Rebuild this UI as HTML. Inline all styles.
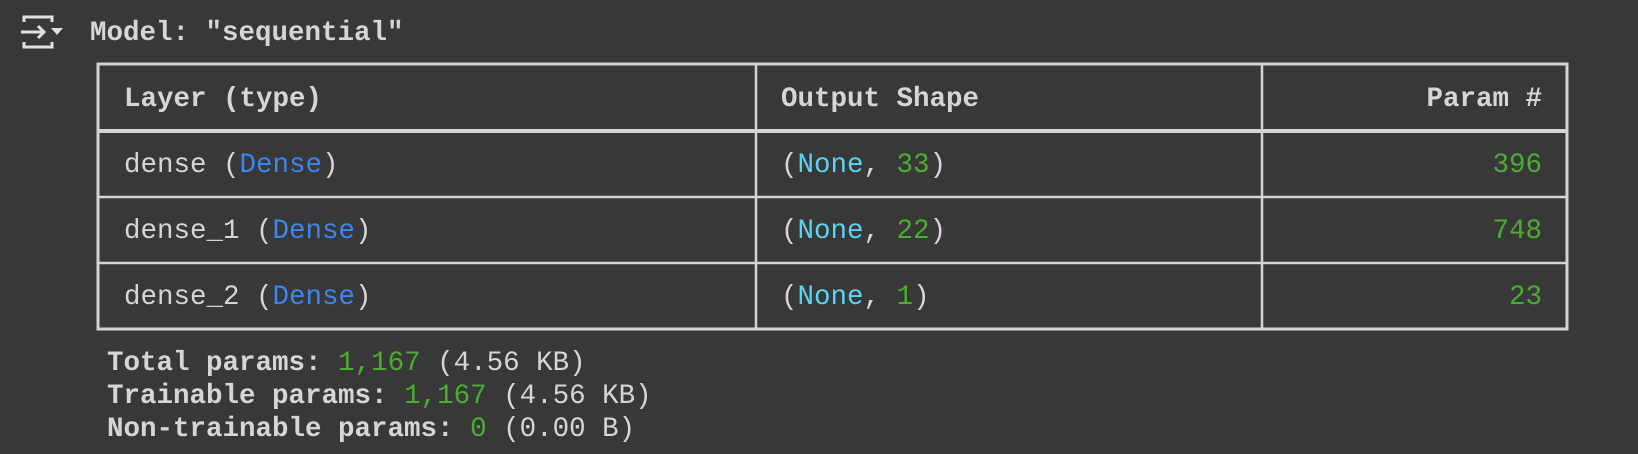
<!DOCTYPE html>
<html><head><meta charset="utf-8"><style>
html,body{margin:0;padding:0;background:#383838;width:1638px;height:454px;overflow:hidden}
text{font-family:"Liberation Mono","DejaVu Sans Mono",monospace;font-size:27.5px;fill:#d6d6d6}
.b{font-weight:bold}
.bl{fill:#3d86f0}.cy{fill:#5bd3f3}.gr{fill:#4aae32}
</style></head><body>
<svg width="1638" height="454" xmlns="http://www.w3.org/2000/svg">
<rect width="1638" height="454" fill="#383838"/>
<!-- icon -->
<g stroke="#e0e0e0" stroke-width="3" fill="none">
<path d="M24 22 V17 H52 V22"/>
<path d="M24 42 V47 H52 V42"/>
<path d="M21 32 H44 M38 26 L44 32 L38 38"/>
</g>
<path d="M51 28 H63 L57 35 Z" fill="#e0e0e0"/>
<text x="90" y="40" class="b">Model: "sequential"</text>
<!-- table -->
<g stroke="#d4d4d4" fill="none">
<rect x="98" y="64" width="1469" height="265" stroke-width="3"/>
<line x1="97" y1="131" x2="1568" y2="131" stroke-width="4"/>
<line x1="97" y1="197" x2="1568" y2="197" stroke-width="2.5"/>
<line x1="97" y1="263" x2="1568" y2="263" stroke-width="2.5"/>
<line x1="756" y1="64" x2="756" y2="329" stroke-width="2.5"/>
<line x1="1262" y1="64" x2="1262" y2="329" stroke-width="2.5"/>
</g>
<text x="124" y="106" class="b">Layer (type)</text>
<text x="781" y="106" class="b">Output Shape</text>
<text x="1542" y="106" class="b" text-anchor="end">Param #</text>

<text x="124" y="172">dense (<tspan class="bl">Dense</tspan>)</text>
<text x="781" y="172">(<tspan class="cy">None</tspan>, <tspan class="gr">33</tspan>)</text>
<text x="1542" y="172" text-anchor="end" class="gr">396</text>

<text x="124" y="238">dense_1 (<tspan class="bl">Dense</tspan>)</text>
<text x="781" y="238">(<tspan class="cy">None</tspan>, <tspan class="gr">22</tspan>)</text>
<text x="1542" y="238" text-anchor="end" class="gr">748</text>

<text x="124" y="304">dense_2 (<tspan class="bl">Dense</tspan>)</text>
<text x="781" y="304">(<tspan class="cy">None</tspan>, <tspan class="gr">1</tspan>)</text>
<text x="1542" y="304" text-anchor="end" class="gr">23</text>

<text x="107" y="370"><tspan class="b">Total params:</tspan> <tspan class="gr">1,167</tspan> (4.56 KB)</text>
<text x="107" y="403"><tspan class="b">Trainable params:</tspan> <tspan class="gr">1,167</tspan> (4.56 KB)</text>
<text x="107" y="436"><tspan class="b">Non-trainable params:</tspan> <tspan class="gr">0</tspan> (0.00 B)</text>
</svg>
</body></html>
